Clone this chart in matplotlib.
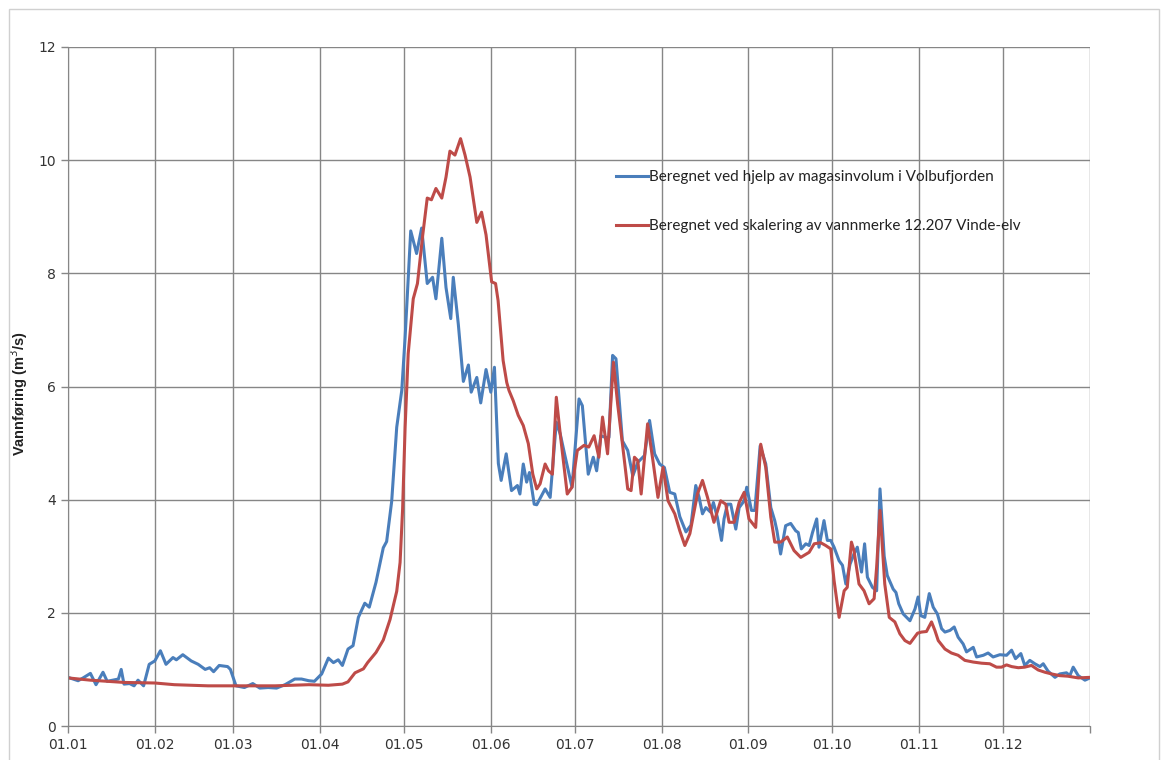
import datetime
import matplotlib
matplotlib.use('Agg')
import matplotlib.pyplot as plt
import matplotlib.dates as mdates
from matplotlib.patches import Rectangle
from matplotlib.ticker import FuncFormatter

# dag i året (0 = 01.01) og vannføring lest av figuren
blue_day = [0, 3.6, 5.4, 8, 10, 12.5, 14, 16, 18, 19, 20, 22, 23.6, 25, 27, 29, 31, 33, 35, 37.5,
            38.7, 41, 44, 46.5, 49, 50.6, 52, 54, 57, 58, 60, 63, 66, 68.5, 71.5, 74.5, 77.5, 81,
            83.4, 86, 88, 90.6, 93, 94.8, 96.5, 98, 100, 101.8, 103.7, 106, 107.6, 110, 112.6,
            113.8, 115.6, 117.4, 119.2, 120.4, 122.4, 124.5, 126.3, 128.3, 130.2, 131.4, 133.5,
            135, 136.7, 137.6, 139.4, 141.2, 143, 144, 146, 147.4, 149.3, 151, 152.3, 153.7,
            154.7, 156.5, 158.4, 160.5, 161.4, 162.6, 163.8, 164.8, 166.5, 167.4, 170.4, 172.2,
            174.4, 175.8, 177.6, 180, 182.5, 183.7, 185.8, 187.6, 188.8, 190.3, 192, 193.2,
            194.5, 195.7, 198, 199.9, 201.7, 203.5, 205.9, 207.7, 209.5, 211.3, 213, 214.9,
            216.7, 218.5, 220.7, 222.5, 224.2, 225.4, 226.6, 227.8, 229.5, 230.5, 231.9, 233.4,
            234.3, 235.5, 236.7, 238.5, 239.7, 241.5, 242.4, 244.1, 245.3, 247.2, 249.2, 251,
            252.4, 253.2, 254.5, 256.3, 258.1, 259.9, 260.8, 261.9, 263.5, 264.7, 265.9, 267.4,
            268.2, 270, 271.2, 272.4, 273.6, 275.4, 276.6, 277.8, 279.3, 280.7, 281.9, 283.4,
            284.5, 285.5, 287.3, 288.8, 290, 291.5, 292.6, 294.7, 295.7, 296.7, 298.3, 300.7,
            302.5, 303.6, 304.6, 306, 307.6, 309, 310.5, 312, 313.2, 315, 316.5, 317.9, 319.7,
            320.9, 323.3, 324.5, 326.9, 328.6, 330.4, 332.8, 335.2, 337, 338.4, 340.3, 341.7,
            343.5, 345.3, 347.1, 348.3, 350, 352.5, 354.2, 356.6, 357.8, 359, 360.8, 363.2, 365]
blue_val = [0.86, 0.80, 0.85, 0.93, 0.73, 0.95, 0.79, 0.81, 0.83, 1.0, 0.74, 0.75, 0.71, 0.81, 0.71,
            1.09, 1.15, 1.33, 1.09, 1.21, 1.17, 1.26, 1.15, 1.09, 1.0, 1.03, 0.96, 1.07, 1.05, 1.0,
            0.71, 0.68, 0.75, 0.67, 0.68, 0.67, 0.73, 0.83, 0.83, 0.80, 0.79, 0.92, 1.2, 1.12,
            1.17, 1.07, 1.36, 1.42, 1.92, 2.17, 2.10, 2.54, 3.15, 3.26, 3.97, 5.28, 5.93, 6.87,
            8.75, 8.35, 8.8, 7.82, 7.93, 7.55, 8.62, 7.75, 7.2, 7.93, 7.1, 6.09, 6.38, 5.9, 6.16,
            5.71, 6.3, 5.9, 6.34, 4.64, 4.34, 4.81, 4.16, 4.25, 4.1, 4.63, 4.31, 4.48, 3.92, 3.91,
            4.19, 4.04, 5.37, 5.16, 4.75, 4.22, 5.78, 5.66, 4.45, 4.75, 4.51, 5.13, 5.1, 5.1, 6.55,
            6.49, 5.04, 4.87, 4.42, 4.66, 4.78, 5.4, 4.81, 4.63, 4.57, 4.13, 4.1, 3.7, 3.43, 3.55,
            4.25, 4.04, 3.75, 3.86, 3.78, 3.95, 3.69, 3.28, 3.66, 3.92, 3.92, 3.48, 3.86, 3.98,
            4.22, 3.81, 3.81, 4.95, 4.63, 3.86, 3.63, 3.45, 3.04, 3.54, 3.58, 3.45, 3.42, 3.13,
            3.22, 3.19, 3.42, 3.66, 3.16, 3.63, 3.28, 3.28, 3.16, 2.92, 2.84, 2.51, 2.86, 3.04,
            3.16, 2.72, 3.22, 2.63, 2.45, 2.39, 4.19, 3.0, 2.66, 2.42, 2.36, 2.16, 1.98, 1.86,
            2.07, 2.28, 1.95, 1.92, 2.34, 2.1, 1.98, 1.72, 1.66, 1.69, 1.75, 1.57, 1.45, 1.31,
            1.39, 1.22, 1.25, 1.29, 1.22, 1.26, 1.25, 1.34, 1.19, 1.28, 1.07, 1.16, 1.1, 1.05,
            1.1, 0.97, 0.86, 0.92, 0.94, 0.89, 1.04, 0.89, 0.81, 0.85]

red_day = [0, 8, 20, 31, 38, 50, 60, 74, 86, 93, 98, 100, 102.5, 105.5, 107, 110, 112.6, 115,
           117.4, 118.6, 119.5, 120.4, 121.5, 123.3, 124.8, 126.7, 128.3, 129.8, 131.4, 133.5,
           135, 136.4, 138.2, 140.2, 141.8, 143.6, 146, 147.7, 149.3, 151.3, 152.7, 153.6,
           154.5, 155.4, 156.7, 157.5, 159, 160.8, 162.6, 164.4, 166, 167.4, 168.6, 170.4,
           171.6, 173, 174.4, 175.8, 178.3, 180, 181.9, 184.3, 186, 187.9, 189.6, 190.9, 192.7,
           194.8, 196.3, 198, 199.9, 201.1, 202.3, 203.5, 204.7, 207, 208.9, 210.7, 212.5,
           214.3, 216.7, 218.5, 220.3, 222.1, 224.8, 226.6, 228.4, 230.7, 233.1, 234.9, 236.1,
           237.9, 239.7, 241.5, 243.2, 245.6, 247.4, 249.2, 251, 252.4, 254.5, 256.9, 259.3,
           261.7, 264.7, 266.5, 268.8, 270.6, 272.4, 273.6, 275.4, 277.2, 278.3, 279.8, 280.7,
           282.5, 284.3, 286.1, 287.9, 288.8, 290, 291.7, 293.3, 295.3, 297.1, 298.9, 300.7,
           301.9, 303.4, 304.8, 306.6, 308.4, 309.6, 310.8, 313.2, 315.5, 317.9, 320.3, 323.3,
           326.3, 329.2, 331.6, 333.4, 335.2, 337, 339.4, 341.7, 344.1, 346.5, 348.9, 351.3,
           354.2, 357.1, 360.8, 365]
red_val = [0.85, 0.81, 0.77, 0.76, 0.73, 0.71, 0.71, 0.71, 0.73, 0.72, 0.74, 0.78, 0.94, 1.01,
           1.12, 1.3, 1.52, 1.88, 2.38, 2.89, 3.83, 5.28, 6.58, 7.55, 7.82, 8.68, 9.33, 9.3, 9.5,
           9.33, 9.7, 10.16, 10.09, 10.38, 10.09, 9.7, 8.9, 9.08, 8.68, 7.85, 7.82, 7.52, 7.0,
           6.46, 6.07, 5.93, 5.75, 5.49, 5.31, 4.99, 4.45, 4.19, 4.28, 4.63, 4.51, 4.45, 5.81,
           5.16, 4.1, 4.22, 4.87, 4.96, 4.93, 5.13, 4.75, 5.46, 4.81, 6.43, 5.69, 4.99, 4.19,
           4.16, 4.75, 4.69, 4.1, 5.34, 4.69, 4.04, 4.57, 3.98, 3.75, 3.45, 3.19, 3.4, 4.1, 4.34,
           4.04, 3.6, 3.98, 3.92, 3.6, 3.6, 3.95, 4.13, 3.66, 3.51, 4.98, 4.57, 3.69, 3.25, 3.25,
           3.34, 3.1, 2.98, 3.07, 3.22, 3.24, 3.19, 3.13, 2.57, 1.92, 2.39, 2.45, 3.25, 3.1, 2.51,
           2.39, 2.16, 2.25, 2.81, 3.81, 2.51, 1.92, 1.84, 1.63, 1.51, 1.46, 1.54, 1.64, 1.66,
           1.67, 1.84, 1.69, 1.51, 1.36, 1.29, 1.25, 1.16, 1.13, 1.11, 1.1, 1.04, 1.04, 1.08,
           1.05, 1.03, 1.04, 1.07, 0.99, 0.95, 0.92, 0.89, 0.88, 0.85, 0.86]

blue_label = 'Beregnet ved hjelp av magasinvolum i Volbufjorden'
red_label = 'Beregnet ved skalering av vannmerke 12.207 Vinde-elv'
y_ticks = [0, 2, 4, 6, 8, 10, 12]

start = mdates.date2num(datetime.datetime(2013, 1, 1))
end = start + 365
grid_col = '#868686'

fig = plt.figure(figsize=(11.61, 7.6), dpi=100)
fig.patches.append(Rectangle((9 / 1161, -0.1), 1150 / 1161, 1.1 - 9 / 760, transform=fig.transFigure,
                             fill=False, edgecolor='#d0d0d0', linewidth=1))
ax = fig.add_axes([68 / 1161, 34 / 760, 1022 / 1161, 679 / 760])

ax.plot([start + d for d in blue_day], blue_val, color='#4a7ebb', lw=2.2, label=blue_label)
ax.plot([start + d for d in red_day], red_val, color='#be4b48', lw=2.2, label=red_label)

ax.set_xlim(start, end)
ax.set_ylim(0, 12)
ax.set_yticks(y_ticks)
ax.xaxis.set_major_locator(mdates.MonthLocator())
datefmt = mdates.DateFormatter('%d.%m')
# ingen etikett på siste tick (slutten av året)
ax.xaxis.set_major_formatter(FuncFormatter(lambda x, pos: '' if x > end - 1 else datefmt(x, pos)))
ax.grid(True, color=grid_col, lw=1)
ax.set_axisbelow(True)
for s in ['top', 'right']:
    ax.spines[s].set_visible(False)
for s in ['left', 'bottom']:
    ax.spines[s].set_color(grid_col)
ax.tick_params(colors=grid_col, labelcolor='#333333', labelsize=10, length=5, width=1)

ax.set_ylabel('Vannføring (m$^3$/s)', fontsize=10.5, fontweight='bold',
              family=['Liberation Sans', 'DejaVu Sans'], color='#222222')
ax.yaxis.set_label_coords(-0.037, 0.49)

leg = ax.legend(loc='center left', bbox_to_anchor=(0.5225, 0.772), frameon=False, handlelength=2.1,
                handletextpad=0.1, labelspacing=2.3, prop={'family': 'Lato', 'size': 11})
for t in leg.get_texts():
    t.set_color('#222222')

fig.savefig('out.png', dpi=100)
